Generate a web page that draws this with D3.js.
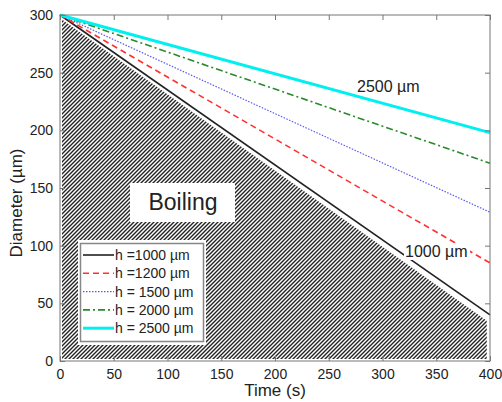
<!DOCTYPE html>
<html>
<head>
<meta charset="utf-8">
<script src="https://cdn.jsdelivr.net/npm/d3@7"></script>
<style>
  body { margin: 0; background: #fff; }
  text { font-family: "Liberation Sans", Arial, sans-serif; fill: #222; }
</style>
</head>
<body>
<div id="chart"></div>
<script>
// data
const seriesNames = ["h =1000 µm", "h =1200 µm", "h = 1500 µm", "h = 2000 µm", "h = 2500 µm"];
const times = [0, 400];
const dia_1000 = [300, 40];
const dia_1200 = [300, 85];
const dia_1500 = [300, 129];
const dia_2000 = [300, 171.5];
const dia_2500 = [300, 198];
const boilTimes = [0, 397];
const boilTop = [296, 35];
const xTicks = [0, 50, 100, 150, 200, 250, 300, 350, 400];
const yTicks = [0, 50, 100, 150, 200, 250, 300];

const W = 502, H = 402;
const margin = {top: 15, right: 12, bottom: 41, left: 60};

const svg = d3.select('#chart').append('svg')
    .attr('width', W)
    .attr('height', H);

const x = d3.scaleLinear()
    .domain([0, 400])
    .range([margin.left, W - margin.right]);
const y = d3.scaleLinear()
    .domain([0, 300])
    .range([H - margin.bottom, margin.top]);

// hatch pattern for boiling region
const defs = svg.append('defs');
defs.append('pattern')
    .attr('id', 'hatch')
    .attr('patternUnits', 'userSpaceOnUse')
    .attr('width', 4).attr('height', 4)
  .append('path')
    .attr('d', 'M-1,1 l2,-2 M0,4 l4,-4 M3,5 l2,-2')
    .attr('stroke', '#222')
    .attr('stroke-width', 1.4);

// boiling region: under the boundary line
const boilPts = boilTimes.map((t, i) => [x(t) + 2, y(boilTop[i])]);
const boilPoly = [[x(boilTimes[0]) + 2, y(0) - 2], ...boilPts, [x(boilTimes[1]), y(0) - 2]];
boilPoly[boilPoly.length - 2][0] = x(boilTimes[1]);
svg.append('path')
    .attr('d', 'M' + boilPoly.join('L') + 'Z')
    .attr('fill', 'url(#hatch)');

// "Boiling" box
svg.append('rect')
    .attr('x', 130).attr('y', 183)
    .attr('width', 105).attr('height', 39)
    .attr('fill', '#fff');
svg.append('text')
    .attr('x', 183).attr('y', 210)
    .attr('text-anchor', 'middle')
    .style('font-size', '23px')
    .text('Boiling');

// lines
const series = [
    {name: seriesNames[0], vals: dia_1000, color: '#222', width: 1.6, dash: null},
    {name: seriesNames[1], vals: dia_1200, color: '#ff3030', width: 1.6, dash: '6,4'},
    {name: seriesNames[2], vals: dia_1500, color: '#5a5aee', width: 1.2, dash: '1.5,1.5'},
    {name: seriesNames[3], vals: dia_2000, color: '#2a8a2a', width: 1.6, dash: '7,3,2,3'},
    {name: seriesNames[4], vals: dia_2500, color: '#00f0f0', width: 3, dash: null}
];

const makeline = d3.line()
    .x(d => x(d[0]))
    .y(d => y(d[1]));

series.forEach(s => {
    svg.append('path')
        .datum(times.map((t, i) => [t, s.vals[i]]))
        .attr('d', makeline)
        .attr('fill', 'none')
        .attr('stroke', s.color)
        .attr('stroke-width', s.width)
        .attr('stroke-dasharray', s.dash);
});

// curve labels
svg.append('rect')
    .attr('x', 404).attr('y', 243)
    .attr('width', 66).attr('height', 17)
    .attr('fill', '#fff');
svg.append('text')
    .attr('x', 405).attr('y', 257)
    .style('font-size', '16px')
    .text('1000 µm');
svg.append('text')
    .attr('x', 357).attr('y', 92)
    .style('font-size', '16px')
    .text('2500 µm');

// axes frame
const frameColor = '#777';
svg.append('rect')
    .attr('x', x(0)).attr('y', y(300))
    .attr('width', x(400) - x(0))
    .attr('height', y(0) - y(300))
    .attr('fill', 'none')
    .attr('stroke', frameColor)
    .attr('stroke-width', 1);

const xAxis = svg.append('g')
    .attr('transform', `translate(0,${y(0)})`)
    .call(d3.axisBottom(x).tickValues(xTicks).tickSize(-5).tickPadding(8));
const xAxisTop = svg.append('g')
    .attr('transform', `translate(0,${y(300)})`)
    .call(d3.axisTop(x).tickValues(xTicks).tickSize(-5).tickFormat(''));
const yAxis = svg.append('g')
    .attr('transform', `translate(${x(0)},0)`)
    .call(d3.axisLeft(y).tickValues(yTicks).tickSize(-5).tickPadding(7));
const yAxisRight = svg.append('g')
    .attr('transform', `translate(${x(400)},0)`)
    .call(d3.axisRight(y).tickValues(yTicks).tickSize(-5).tickFormat(''));

[xAxis, xAxisTop, yAxis, yAxisRight].forEach(g => {
    g.select('.domain').remove();
    g.selectAll('line').attr('stroke', frameColor);
    g.selectAll('text')
        .style('font-family', '"Liberation Sans", Arial, sans-serif')
        .style('font-size', '14px')
        .attr('fill', '#222');
});

// legend
svg.append('rect')
    .attr('x', 78).attr('y', 240)
    .attr('width', 128).attr('height', 105)
    .attr('fill', '#fff');
svg.append('rect')
    .attr('x', 80.5).attr('y', 243.5)
    .attr('width', 123).attr('height', 98)
    .attr('fill', '#fff')
    .attr('stroke', '#888')
    .attr('stroke-width', 1.5);

const legend = svg.append('g');
series.forEach((s, i) => {
    const ly = 255 + i * 18.3;
    legend.append('line')
        .attr('x1', 83).attr('x2', 114)
        .attr('y1', ly).attr('y2', ly)
        .attr('stroke', s.color)
        .attr('stroke-width', s.width)
        .attr('stroke-dasharray', s.dash);
    legend.append('text')
        .attr('x', 115).attr('y', ly + 5)
        .style('font-size', '14px')
        .text(s.name);
});

// axis titles
svg.append('text')
    .attr('x', 275).attr('y', 396)
    .attr('text-anchor', 'middle')
    .style('font-size', '17px')
    .text('Time (s)');
svg.append('text')
    .attr('transform', 'translate(22,203) rotate(-90)')
    .attr('text-anchor', 'middle')
    .style('font-size', '17px')
    .text('Diameter (µm)');
</script>
</body>
</html>
